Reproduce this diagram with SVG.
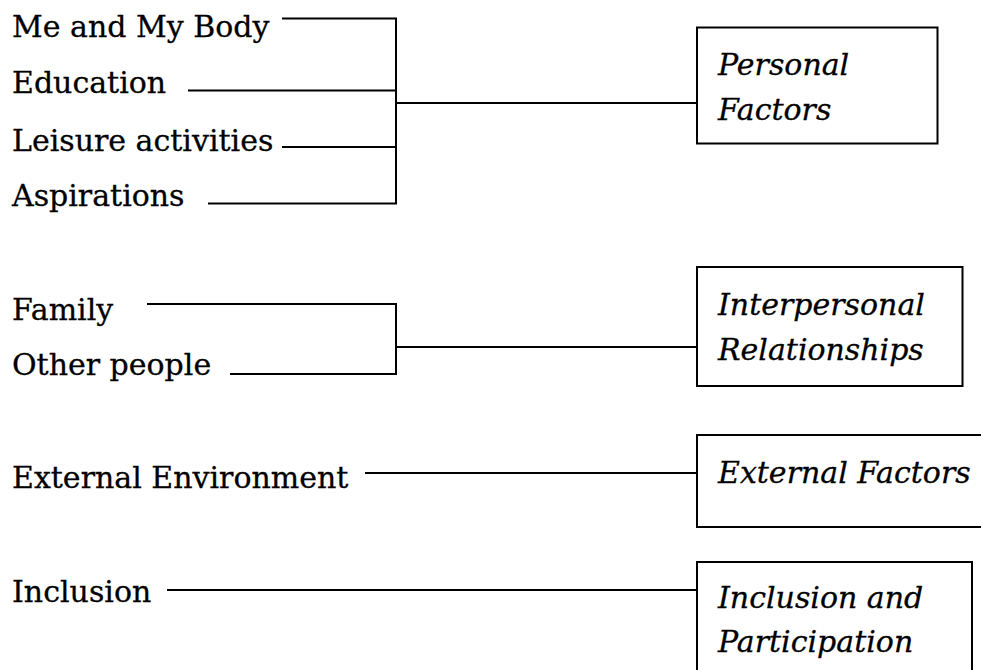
<svg xmlns="http://www.w3.org/2000/svg" width="981" height="670" viewBox="0 0 981 670">
  <style>
    .item { font-family: "DejaVu Serif", "Liberation Serif", serif; font-size: 30px; fill: #000; stroke: #000; stroke-width: 0.3; }
    .title { font-family: "DejaVu Serif", "Liberation Serif", serif; font-size: 30px; font-style: italic; fill: #000; stroke: #000; stroke-width: 0.3; }
    .box { fill: #fff; stroke: #000; stroke-width: 2; }
    .wire { fill: none; stroke: #000; stroke-width: 2; }
  </style>
  <rect width="981" height="670" fill="#fff"/>

  <!-- connectors -->
  <g id="connectors">
    <polyline class="wire" points="282,18.5 396,18.5 396,203.5 208,203.5"/>
    <line class="wire" x1="188" y1="90.5" x2="396" y2="90.5"/>
    <line class="wire" x1="282" y1="147" x2="396" y2="147"/>
    <line class="wire" x1="396" y1="103" x2="697" y2="103"/>

    <polyline class="wire" points="147,304 396,304 396,374 230,374"/>
    <line class="wire" x1="396" y1="347" x2="697" y2="347"/>

    <line class="wire" x1="365" y1="473" x2="697" y2="473"/>
    <line class="wire" x1="167" y1="590" x2="697" y2="590"/>
  </g>

  <!-- source items -->
  <g id="item-body"><text class="item" x="12" y="37">Me and My Body</text></g>
  <g id="item-education"><text class="item" x="12" y="93">Education</text></g>
  <g id="item-leisure"><text class="item" x="12" y="151">Leisure activities</text></g>
  <g id="item-aspirations"><text class="item" x="12" y="206">Aspirations</text></g>
  <g id="item-family"><text class="item" x="12" y="320">Family</text></g>
  <g id="item-others"><text class="item" x="12" y="375">Other people</text></g>
  <g id="item-environment"><text class="item" x="12" y="488">External Environment</text></g>
  <g id="item-inclusion"><text class="item" x="12" y="602">Inclusion</text></g>

  <!-- category boxes -->
  <g id="personal-factors">
    <rect class="box" x="697" y="27.5" width="240.5" height="116"/>
    <text class="title" x="718" y="75">Personal</text>
    <text class="title" x="718" y="120">Factors</text>
  </g>
  <g id="interpersonal-relationships">
    <rect class="box" x="697" y="267" width="265.5" height="119"/>
    <text class="title" x="718" y="315">Interpersonal</text>
    <text class="title" x="718" y="360">Relationships</text>
  </g>
  <g id="external-factors">
    <rect class="box" x="697" y="435" width="300" height="92"/>
    <text class="title" x="718" y="483">External Factors</text>
  </g>
  <g id="inclusion-participation">
    <rect class="box" x="697" y="562" width="275" height="130"/>
    <text class="title" x="718" y="608">Inclusion and</text>
    <text class="title" x="718" y="652">Participation</text>
  </g>
</svg>
